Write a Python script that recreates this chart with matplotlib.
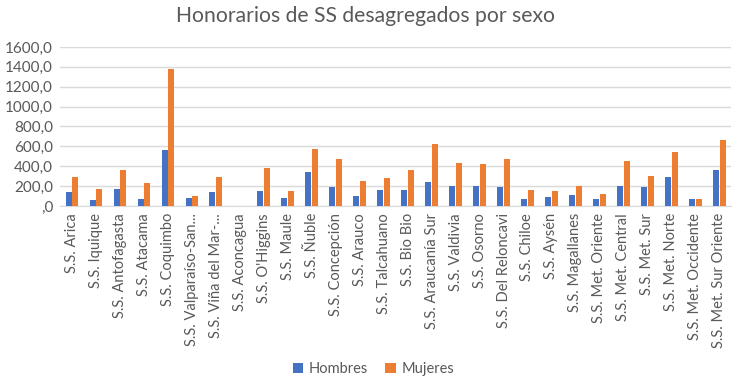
import matplotlib
matplotlib.use("Agg")
import matplotlib.pyplot as plt
import numpy as np
from matplotlib.ticker import FuncFormatter

plt.rcParams['font.family'] = ['Lato', 'DejaVu Sans']

categories = ["S.S. Arica", "S.S. Iquique", "S.S. Antofagasta", "S.S. Atacama", "S.S. Coquimbo",
              "S.S. Valparaíso-San...", "S.S. Viña del Mar-...", "S.S. Aconcagua", "S.S. O'Higgins",
              "S.S. Maule", "S.S. Ñuble", "S.S. Concepción", "S.S. Arauco", "S.S. Talcahuano",
              "S.S. Bio Bio", "S.S. Araucanía Sur", "S.S. Valdivia", "S.S. Osorno",
              "S.S. Del Reloncavi", "S.S. Chiloe", "S.S. Aysén", "S.S. Magallanes",
              "S.S. Met. Oriente", "S.S. Met. Central", "S.S. Met. Sur", "S.S. Met. Norte",
              "S.S. Met. Occidente", "S.S. Met. Sur Oriente"]
hombres = [138, 64, 168, 74, 563, 81, 138, 0, 148, 81, 340, 189, 98, 162, 162, 243, 202, 202,
           189, 71, 88, 115, 71, 202, 195, 293, 71, 364]
mujeres = [293, 168, 364, 229, 1382, 104, 293, 0, 384, 148, 576, 468, 249, 286, 367, 623, 428, 421,
           472, 162, 155, 202, 121, 452, 300, 543, 71, 664]

fig = plt.figure(figsize=(7.32, 3.85), dpi=100)
ax = fig.add_axes([0.082, 0.465, 0.917, 0.413])

x = np.arange(len(categories))
w = 0.25
gap = 0.03
ax.bar(x - w/2 - gap/2, hombres, width=w, color='#4472C4', label='Hombres', zorder=3)
ax.bar(x + w/2 + gap/2, mujeres, width=w, color='#ED7D31', label='Mujeres', zorder=3)

ax.set_xlim(-0.5, len(categories) - 0.5)
ax.set_ylim(0, 1600)
ax.set_yticks(np.arange(0, 1601, 200))
ax.yaxis.set_major_formatter(FuncFormatter(lambda v, p: ",0" if v == 0 else f"{int(v)},0"))
ax.set_xticks(x)
ax.set_xticklabels(categories, rotation=90)
ax.grid(axis='y', color='#D9D9D9', linewidth=1, zorder=0)
for s in ['top', 'right', 'left']:
    ax.spines[s].set_visible(False)
ax.spines['bottom'].set_color('#D9D9D9')
ax.tick_params(axis='both', length=0, labelcolor='#595959')
ax.tick_params(axis='x', pad=5, labelsize=10.5)
ax.tick_params(axis='y', pad=5, labelsize=11)

fig.suptitle("Honorarios de SS desagregados por sexo", y=0.985, fontsize=15.2, color='#595959')
fig.legend(loc='lower center', bbox_to_anchor=(0.51, -0.01), ncol=2, frameon=False,
           fontsize=10.5, labelcolor='#595959', handlelength=0.7, handleheight=0.7,
           columnspacing=1.2, handletextpad=0.4)

fig.savefig("out.png", dpi=100)
